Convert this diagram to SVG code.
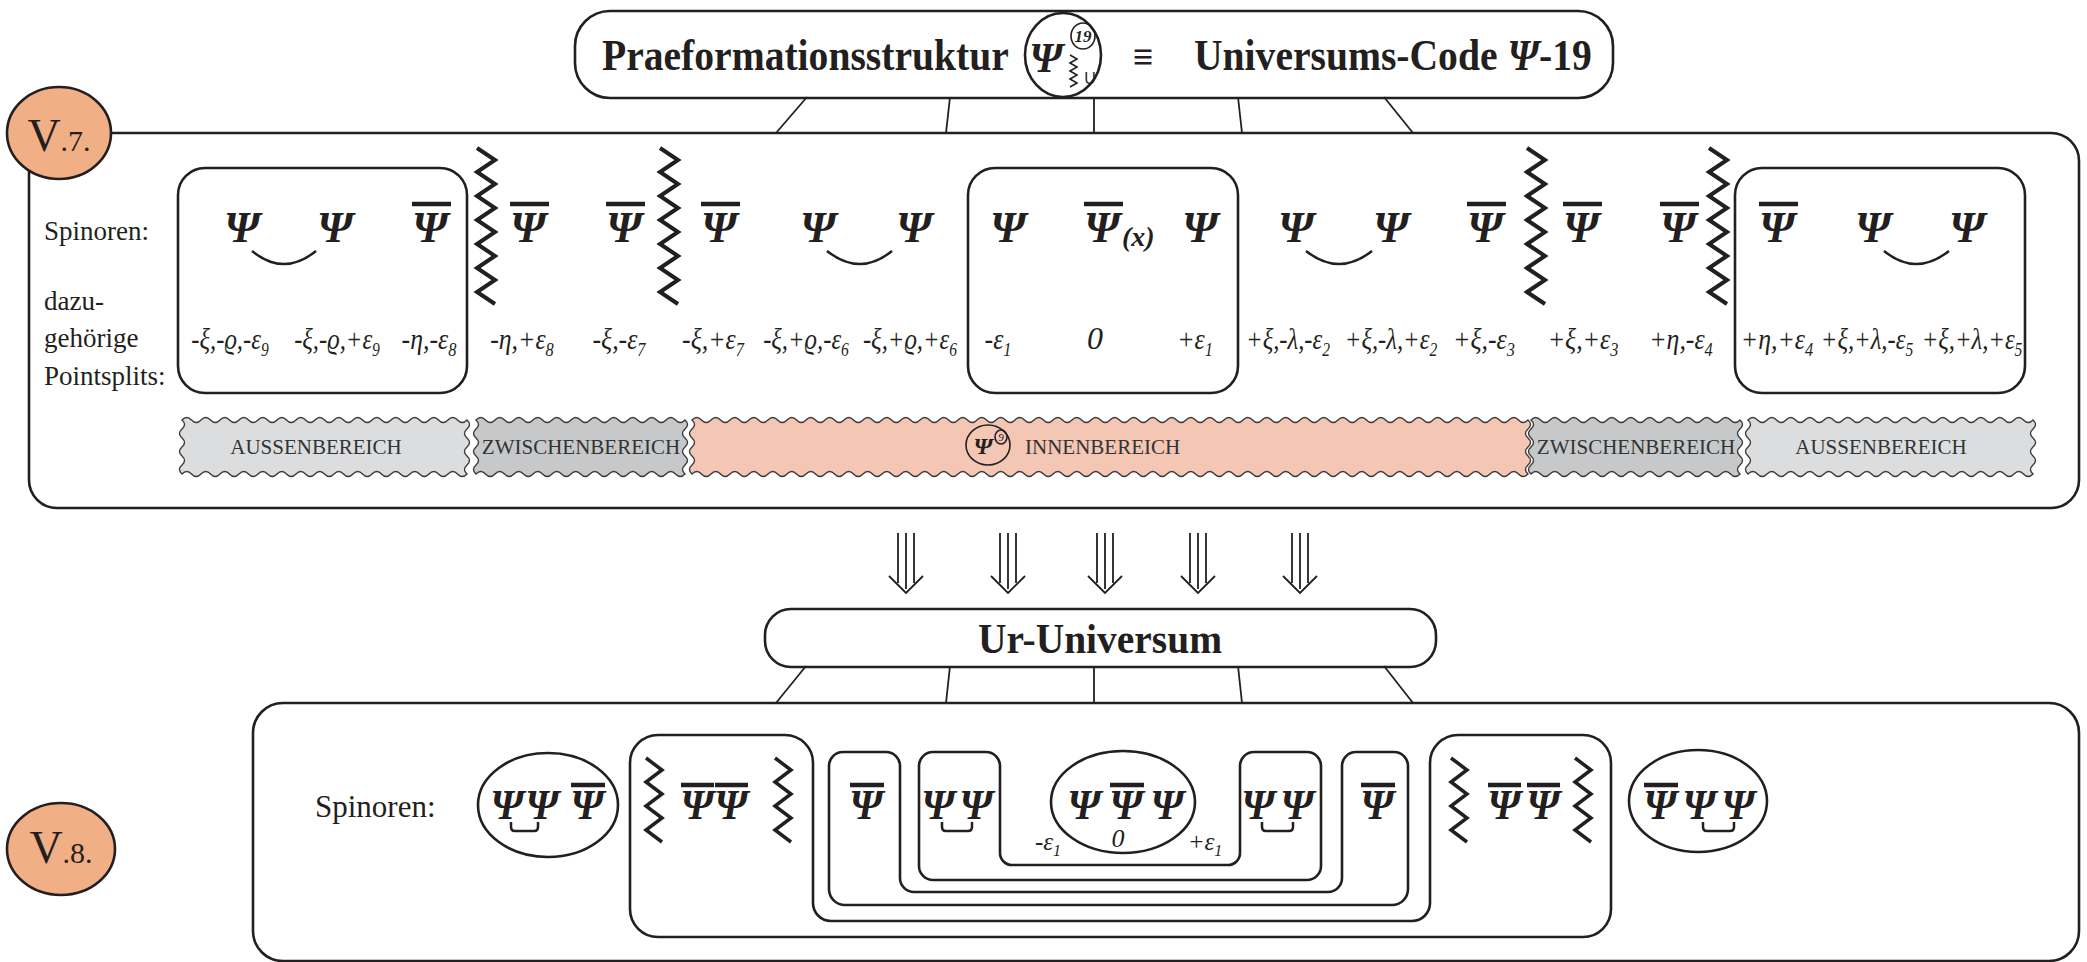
<svg xmlns="http://www.w3.org/2000/svg" xmlns:xlink="http://www.w3.org/1999/xlink" width="2087" height="962" viewBox="0 0 2087 962">
<style>
.box{fill:none;stroke:#231F20;stroke-width:2.6}
.thin{fill:none;stroke:#231F20;stroke-width:1.6}
.con{fill:none;stroke:#231F20;stroke-width:1.8}
.t{font-family:"Liberation Serif","DejaVu Serif",serif;fill:#231F20}
.tb{font-family:"Liberation Serif","DejaVu Serif",serif;font-weight:bold;fill:#231F20}
.psi{font-family:"Liberation Serif","DejaVu Serif",serif;font-weight:bold;font-style:italic;font-size:45px;text-anchor:middle;fill:#231F20}
.psb{font-family:"Liberation Serif","DejaVu Serif",serif;font-weight:bold;font-style:italic;font-size:42px;text-anchor:middle;fill:#231F20}
.bar{stroke:#231F20;stroke-width:4.5}
.ps{font-family:"Liberation Serif","DejaVu Serif",serif;font-style:italic;font-size:30px;fill:#231F20;text-anchor:middle}
.sub{font-size:19px}
.zz{fill:none;stroke:#231F20;stroke-width:4;stroke-linejoin:miter}
.zs{fill:none;stroke:#231F20;stroke-width:3.5;stroke-linejoin:miter}
.arc{fill:none;stroke:#231F20;stroke-width:2.5}
.bA{fill:#DCDDDF;stroke:#3A3A3A;stroke-width:1.4}
.bZ{fill:#C7C8CA;stroke:#3A3A3A;stroke-width:1.4}
.bI{fill:#F4C6B4;stroke:#3A3A3A;stroke-width:1.4}
.bt{font-family:"Liberation Serif","DejaVu Serif",serif;font-size:21px;fill:#333}
.vc{fill:#F1AF86;stroke:#231F20;stroke-width:2.6}
</style>
<defs>
<path id="zz" d="M-9,0 l18,12 -18,12 18,12 -18,12 18,12 -18,12 18,12 -18,12 18,12 -18,12 18,12 -18,12 18,12"/>
<path id="zzs" d="M-8,0 l16,12 -16,12 16,12 -16,12 16,12 -16,12 16,12"/>
<path id="bandA" d="M0,0 q4.75,-5 9.5,0 t
9.5,0 9.5,0 9.5,0 9.5,0 9.5,0 9.5,0 9.5,0 9.5,0 9.5,0 9.5,0
9.5,0 9.5,0 9.5,0 9.5,0 9.5,0 9.5,0 9.5,0 9.5,0 9.5,0 9.5,0
9.5,0 9.5,0 9.5,0 9.5,0 9.5,0 9.5,0 9.5,0 9.5,0 9.5,0
q5,4.5 0,9 t0,9 0,9 0,9 0,9 0,9
q-4.75,5 -9.5,0 t
-9.5,0 -9.5,0 -9.5,0 -9.5,0 -9.5,0 -9.5,0 -9.5,0 -9.5,0 -9.5,0 -9.5,0
-9.5,0 -9.5,0 -9.5,0 -9.5,0 -9.5,0 -9.5,0 -9.5,0 -9.5,0 -9.5,0 -9.5,0
-9.5,0 -9.5,0 -9.5,0 -9.5,0 -9.5,0 -9.5,0 -9.5,0 -9.5,0 -9.5,0
q-5,-4.5 0,-9 t0,-9 0,-9 0,-9 0,-9 0,-9 Z"/>
<path id="bandZ" d="M0,0 q4.75,-5 9.5,0 t
9.5,0 9.5,0 9.5,0 9.5,0 9.5,0 9.5,0 9.5,0 9.5,0 9.5,0 9.5,0
9.5,0 9.5,0 9.5,0 9.5,0 9.5,0 9.5,0 9.5,0 9.5,0 9.5,0 9.5,0
9.5,0
q5,4.5 0,9 t0,9 0,9 0,9 0,9 0,9
q-4.75,5 -9.5,0 t
-9.5,0 -9.5,0 -9.5,0 -9.5,0 -9.5,0 -9.5,0 -9.5,0 -9.5,0 -9.5,0 -9.5,0
-9.5,0 -9.5,0 -9.5,0 -9.5,0 -9.5,0 -9.5,0 -9.5,0 -9.5,0 -9.5,0 -9.5,0
-9.5,0
q-5,-4.5 0,-9 t0,-9 0,-9 0,-9 0,-9 0,-9 Z"/>
<path id="bandI" d="M0,0 q4.75,-5 9.5,0 t
9.5,0 9.5,0 9.5,0 9.5,0 9.5,0 9.5,0 9.5,0 9.5,0 9.5,0 9.5,0
9.5,0 9.5,0 9.5,0 9.5,0 9.5,0 9.5,0 9.5,0 9.5,0 9.5,0 9.5,0
9.5,0 9.5,0 9.5,0 9.5,0 9.5,0 9.5,0 9.5,0 9.5,0 9.5,0 9.5,0
9.5,0 9.5,0 9.5,0 9.5,0 9.5,0 9.5,0 9.5,0 9.5,0 9.5,0 9.5,0
9.5,0 9.5,0 9.5,0 9.5,0 9.5,0 9.5,0 9.5,0 9.5,0 9.5,0 9.5,0
9.5,0 9.5,0 9.5,0 9.5,0 9.5,0 9.5,0 9.5,0 9.5,0 9.5,0 9.5,0
9.5,0 9.5,0 9.5,0 9.5,0 9.5,0 9.5,0 9.5,0 9.5,0 9.5,0 9.5,0
9.5,0 9.5,0 9.5,0 9.5,0 9.5,0 9.5,0 9.5,0 9.5,0 9.5,0 9.5,0
9.5,0 9.5,0 9.5,0 9.5,0 9.5,0 9.5,0 9.5,0
q5,4.5 0,9 t0,9 0,9 0,9 0,9 0,9
q-4.75,5 -9.5,0 t
-9.5,0 -9.5,0 -9.5,0 -9.5,0 -9.5,0 -9.5,0 -9.5,0 -9.5,0 -9.5,0 -9.5,0
-9.5,0 -9.5,0 -9.5,0 -9.5,0 -9.5,0 -9.5,0 -9.5,0 -9.5,0 -9.5,0 -9.5,0
-9.5,0 -9.5,0 -9.5,0 -9.5,0 -9.5,0 -9.5,0 -9.5,0 -9.5,0 -9.5,0 -9.5,0
-9.5,0 -9.5,0 -9.5,0 -9.5,0 -9.5,0 -9.5,0 -9.5,0 -9.5,0 -9.5,0 -9.5,0
-9.5,0 -9.5,0 -9.5,0 -9.5,0 -9.5,0 -9.5,0 -9.5,0 -9.5,0 -9.5,0 -9.5,0
-9.5,0 -9.5,0 -9.5,0 -9.5,0 -9.5,0 -9.5,0 -9.5,0 -9.5,0 -9.5,0 -9.5,0
-9.5,0 -9.5,0 -9.5,0 -9.5,0 -9.5,0 -9.5,0 -9.5,0 -9.5,0 -9.5,0 -9.5,0
-9.5,0 -9.5,0 -9.5,0 -9.5,0 -9.5,0 -9.5,0 -9.5,0 -9.5,0 -9.5,0 -9.5,0
-9.5,0 -9.5,0 -9.5,0 -9.5,0 -9.5,0 -9.5,0 -9.5,0
q-5,-4.5 0,-9 t0,-9 0,-9 0,-9 0,-9 0,-9 Z"/>
</defs>
<rect width="2087" height="962" fill="#fff"/>

<g id="connectors">
<line class="con" x1="807" y1="97" x2="776" y2="133"/>
<line class="con" x1="950" y1="97" x2="946" y2="133"/>
<line class="con" x1="1094" y1="97" x2="1094" y2="133"/>
<line class="con" x1="1238" y1="97" x2="1242" y2="133"/>
<line class="con" x1="1384" y1="97" x2="1413" y2="133"/>
<line class="con" x1="806" y1="666" x2="776" y2="703"/>
<line class="con" x1="950" y1="666" x2="946" y2="703"/>
<line class="con" x1="1094" y1="666" x2="1094" y2="703"/>
<line class="con" x1="1238" y1="666" x2="1242" y2="703"/>
<line class="con" x1="1384" y1="666" x2="1413" y2="703"/>
<g id="arrows" class="con">
<path d="M898,533 V583 M906,533 V589 M914,533 V583 M889,576 L906,593 L923,576"/>
<path d="M1000,533 V583 M1008,533 V589 M1016,533 V583 M991,576 L1008,593 L1025,576"/>
<path d="M1097,533 V583 M1105,533 V589 M1113,533 V583 M1088,576 L1105,593 L1122,576"/>
<path d="M1190,533 V583 M1198,533 V589 M1206,533 V583 M1181,576 L1198,593 L1215,576"/>
<path d="M1292,533 V583 M1300,533 V589 M1308,533 V583 M1283,576 L1300,593 L1317,576"/>
</g>
</g>

<g id="title">
<rect class="box" x="575" y="11" width="1038" height="87" rx="35"/>
<text class="tb" transform="translate(602,70) scale(0.9,1)" font-size="44">Praeformationsstruktur</text>
<ellipse class="box" cx="1063" cy="55" rx="38" ry="42" stroke-width="2"/>
<text class="psi" x="1046" y="72" style="font-size:42px">Ψ</text>
<ellipse class="thin" cx="1083" cy="36" rx="12" ry="13" stroke-width="1.3"/>
<text class="t" x="1083" y="42" style="font-size:17px;font-style:italic;font-weight:bold" text-anchor="middle">19</text>
<path class="thin" stroke-width="1.3" d="M1070,55 l7,4 -7,4 7,4 -7,4 7,4 -7,4 7,4 -7,4"/>
<text x="1090" y="84" font-family="Liberation Sans, sans-serif" font-size="16" fill="#231F20" text-anchor="middle">U</text>
<text class="tb" x="1143" y="69" font-size="36" text-anchor="middle">≡</text>
<text class="tb" transform="translate(1194,70) scale(0.9,1)" font-size="44">Universums-Code <tspan font-style="italic">Ψ</tspan>-19</text>
</g>

<g id="v7">
<rect class="box" x="29" y="133" width="2050" height="375" rx="28"/>
<ellipse class="vc" cx="59" cy="133" rx="52" ry="46"/>
<text class="t" x="59" y="151" text-anchor="middle"><tspan font-size="46">V</tspan><tspan font-size="30">.7.</tspan></text>
<text class="t" x="44" y="240" font-size="27">Spinoren:</text>
<text class="t" x="44" y="310" font-size="27">dazu-</text>
<text class="t" x="44" y="347" font-size="27">gehörige</text>
<text class="t" x="44" y="385" font-size="27">Pointsplits:</text>
</g>

<g id="v7-boxes">
<rect class="box" x="178" y="168" width="289" height="225" rx="27"/>
<rect class="box" x="968" y="168" width="270" height="225" rx="27"/>
<rect class="box" x="1735" y="168" width="290" height="225" rx="27"/>
</g>

<g id="v7-spinors">
<text class="psi" x="242" y="242">Ψ</text>
<text class="psi" x="335" y="242">Ψ</text>
<text class="psi" x="430" y="242">Ψ</text>
<text class="psi" x="528" y="242">Ψ</text>
<text class="psi" x="624" y="242">Ψ</text>
<text class="psi" x="719" y="242">Ψ</text>
<text class="psi" x="818" y="242">Ψ</text>
<text class="psi" x="914" y="242">Ψ</text>
<text class="psi" x="1008" y="242">Ψ</text>
<text class="psi" x="1102" y="242">Ψ</text>
<text class="psi" x="1122" y="246" style="font-size:28px;text-anchor:start">(x)</text>
<text class="psi" x="1200" y="242">Ψ</text>
<text class="psi" x="1296" y="242">Ψ</text>
<text class="psi" x="1391" y="242">Ψ</text>
<text class="psi" x="1485" y="242">Ψ</text>
<text class="psi" x="1581" y="242">Ψ</text>
<text class="psi" x="1678" y="242">Ψ</text>
<text class="psi" x="1777" y="242">Ψ</text>
<text class="psi" x="1873" y="242">Ψ</text>
<text class="psi" x="1967" y="242">Ψ</text>
<path class="bar" d="M412,204 h39 M510,204 h39 M606,204 h39 M701,204 h39 M1084,204 h39 M1467,204 h39 M1563,204 h39 M1660,204 h39 M1759,204 h39"/>
<path class="arc" d="M252,251 Q284,277 316,251 M827,251 Q860,277 892,251 M1306,251 Q1339,277 1372,251 M1884,251 Q1916,277 1949,251"/>
<use href="#zz" x="486" y="148" class="zz"/>
<use href="#zz" x="669" y="148" class="zz"/>
<use href="#zz" x="1536" y="148" class="zz"/>
<use href="#zz" x="1718" y="148" class="zz"/>
</g>

<g id="v7-pointsplits">
<text class="ps" transform="translate(230,349) scale(0.82,1)">-ξ,-ϱ,-ε<tspan class="sub" dy="7">9</tspan></text>
<text class="ps" transform="translate(337,349) scale(0.82,1)">-ξ,-ϱ,+ε<tspan class="sub" dy="7">9</tspan></text>
<text class="ps" transform="translate(429,349) scale(0.86,1)">-η,-ε<tspan class="sub" dy="7">8</tspan></text>
<text class="ps" transform="translate(522,349) scale(0.86,1)">-η,+ε<tspan class="sub" dy="7">8</tspan></text>
<text class="ps" transform="translate(619,349) scale(0.86,1)">-ξ,-ε<tspan class="sub" dy="7">7</tspan></text>
<text class="ps" transform="translate(713,349) scale(0.86,1)">-ξ,+ε<tspan class="sub" dy="7">7</tspan></text>
<text class="ps" transform="translate(806,349) scale(0.82,1)">-ξ,+ϱ,-ε<tspan class="sub" dy="7">6</tspan></text>
<text class="ps" transform="translate(910,349) scale(0.82,1)">-ξ,+ϱ,+ε<tspan class="sub" dy="7">6</tspan></text>
<text class="ps" transform="translate(998,349) scale(0.86,1)">-ε<tspan class="sub" dy="7">1</tspan></text>
<text class="ps" x="1095" y="349" style="font-size:32px">0</text>
<text class="ps" transform="translate(1195,349) scale(0.86,1)">+ε<tspan class="sub" dy="7">1</tspan></text>
<text class="ps" transform="translate(1288,349) scale(0.82,1)">+ξ,-λ,-ε<tspan class="sub" dy="7">2</tspan></text>
<text class="ps" transform="translate(1391,349) scale(0.82,1)">+ξ,-λ,+ε<tspan class="sub" dy="7">2</tspan></text>
<text class="ps" transform="translate(1484,349) scale(0.86,1)">+ξ,-ε<tspan class="sub" dy="7">3</tspan></text>
<text class="ps" transform="translate(1583,349) scale(0.86,1)">+ξ,+ε<tspan class="sub" dy="7">3</tspan></text>
<text class="ps" transform="translate(1681,349) scale(0.86,1)">+η,-ε<tspan class="sub" dy="7">4</tspan></text>
<text class="ps" transform="translate(1777,349) scale(0.86,1)">+η,+ε<tspan class="sub" dy="7">4</tspan></text>
<text class="ps" transform="translate(1867,349) scale(0.82,1)">+ξ,+λ,-ε<tspan class="sub" dy="7">5</tspan></text>
<text class="ps" transform="translate(1972,349) scale(0.82,1)">+ξ,+λ,+ε<tspan class="sub" dy="7">5</tspan></text>
</g>

<g id="v7-bands">
<use href="#bandA" x="182" y="420" class="bA"/>
<use href="#bandZ" x="476" y="420" class="bZ"/>
<use href="#bandI" x="692" y="420" class="bI"/>
<use href="#bandZ" x="1531" y="420" class="bZ"/>
<use href="#bandA" x="1748" y="420" class="bA"/>
<text class="bt" x="316" y="454" text-anchor="middle">AUSSENBEREICH</text>
<text class="bt" x="581" y="454" text-anchor="middle">ZWISCHENBEREICH</text>
<ellipse class="thin" cx="988" cy="445" rx="22" ry="20" stroke-width="1.3"/>
<text class="psi" x="983" y="454" style="font-size:24px">Ψ</text>
<ellipse class="thin" cx="1001" cy="437" rx="6" ry="7" stroke-width="1"/>
<text class="t" x="1001" y="441" style="font-size:11px;font-style:italic" text-anchor="middle">9</text>
<text class="bt" x="1025" y="454">INNENBEREICH</text>
<text class="bt" x="1636" y="454" text-anchor="middle">ZWISCHENBEREICH</text>
<text class="bt" x="1881" y="454" text-anchor="middle">AUSSENBEREICH</text>
</g>

<g id="ur-universum">
<rect class="box" x="765" y="609" width="671" height="58" rx="26"/>
<text class="tb" transform="translate(1100,653) scale(0.94,1)" font-size="42" text-anchor="middle">Ur-Universum</text>
</g>

<g id="v8">
<rect class="box" x="253" y="703" width="1826" height="258" rx="30"/>
<ellipse class="vc" cx="61" cy="849" rx="54" ry="46"/>
<text class="t" x="61" y="863" text-anchor="middle"><tspan font-size="46">V</tspan><tspan font-size="30">.8.</tspan></text>
<text class="t" x="315" y="817" font-size="31">Spinoren:</text>
</g>

<g id="v8-shells">
<path class="box" d="M630,763 A28,28 0 0 1 658,735 H785 A28,28 0 0 1 813,763 V903 A18,18 0 0 0 831,921 H1412 A18,18 0 0 0 1430,903 V763 A28,28 0 0 1 1458,735 H1583 A28,28 0 0 1 1611,763 V909 A28,28 0 0 1 1583,937 H658 A28,28 0 0 1 630,909 Z"/>
<path class="box" d="M829,766 A14,14 0 0 1 843,752 H886 A14,14 0 0 1 900,766 V878 A14,14 0 0 0 914,892 H1328 A14,14 0 0 0 1342,878 V766 A14,14 0 0 1 1356,752 H1394 A14,14 0 0 1 1408,766 V889 A16,16 0 0 1 1392,905 H845 A16,16 0 0 1 829,889 Z"/>
<path class="box" d="M919,766 A14,14 0 0 1 933,752 H986 A14,14 0 0 1 1000,766 V853 A12,12 0 0 0 1012,865 H1228 A12,12 0 0 0 1240,853 V766 A14,14 0 0 1 1254,752 H1307 A14,14 0 0 1 1321,766 V866 A14,14 0 0 1 1307,880 H933 A14,14 0 0 1 919,866 Z"/>
</g>

<g id="v8-left-ellipse">
<ellipse class="box" cx="548" cy="805" rx="70" ry="52" stroke-width="2"/>
<text class="psb" x="507" y="819">Ψ</text>
<text class="psb" x="542" y="819">Ψ</text>
<text class="psb" x="587" y="819">Ψ</text>
<line class="bar" x1="571" y1="785" x2="605" y2="785"/>
<path class="arc" d="M511,822 v5 q0,4 4,4 h19 q4,0 4,-4 v-5"/>
</g>

<g id="v8-left-zigzag">
<use href="#zzs" x="654" y="758" class="zs"/>
<text class="psb" x="697" y="819">Ψ</text>
<text class="psb" x="731" y="819">Ψ</text>
<path class="bar" d="M681,785 h33 M715,785 h33"/>
<use href="#zzs" x="783" y="758" class="zs"/>
</g>

<g id="v8-inner">
<text class="psb" x="866" y="819">Ψ</text>
<line class="bar" x1="850" y1="785" x2="884" y2="785"/>
<text class="psb" x="938" y="819">Ψ</text>
<text class="psb" x="976" y="819">Ψ</text>
<path class="arc" d="M942,822 v5 q0,4 4,4 h22 q4,0 4,-4 v-5"/>
<ellipse class="box" cx="1123" cy="802" rx="72" ry="51" stroke-width="2"/>
<text class="psb" x="1084" y="819">Ψ</text>
<text class="psb" x="1126" y="819">Ψ</text>
<text class="psb" x="1167" y="819">Ψ</text>
<line class="bar" x1="1110" y1="785" x2="1144" y2="785"/>
<text class="ps" x="1118" y="847" style="font-size:26px">0</text>
<text class="ps" x="1048" y="850" style="font-size:25px">-ε<tspan dy="6" style="font-size:16px">1</tspan></text>
<text class="ps" x="1205" y="850" style="font-size:25px">+ε<tspan dy="6" style="font-size:16px">1</tspan></text>
<text class="psb" x="1258" y="819">Ψ</text>
<text class="psb" x="1297" y="819">Ψ</text>
<path class="arc" d="M1262,822 v5 q0,4 4,4 h23 q4,0 4,-4 v-5"/>
<text class="psb" x="1377" y="819">Ψ</text>
<line class="bar" x1="1361" y1="785" x2="1395" y2="785"/>
</g>

<g id="v8-right-zigzag">
<use href="#zzs" x="1459" y="758" class="zs"/>
<text class="psb" x="1504" y="819">Ψ</text>
<text class="psb" x="1543" y="819">Ψ</text>
<path class="bar" d="M1488,785 h33 M1527,785 h33"/>
<use href="#zzs" x="1583" y="758" class="zs"/>
</g>

<g id="v8-right-ellipse">
<ellipse class="box" cx="1698" cy="801" rx="69" ry="51" stroke-width="2"/>
<text class="psb" x="1660" y="819">Ψ</text>
<text class="psb" x="1699" y="819">Ψ</text>
<text class="psb" x="1738" y="819">Ψ</text>
<line class="bar" x1="1644" y1="785" x2="1678" y2="785"/>
<path class="arc" d="M1703,822 v5 q0,4 4,4 h23 q4,0 4,-4 v-5"/>
</g>
</svg>
